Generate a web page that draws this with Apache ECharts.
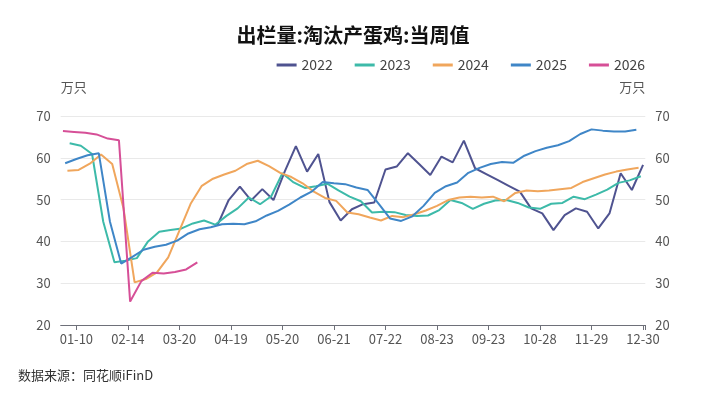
<!DOCTYPE html>
<html>
<head>
<meta charset="utf-8">
<script src="https://cdn.jsdelivr.net/npm/echarts@6/dist/echarts.min.js"></script>
<style>
html,body{margin:0;padding:0;background:#fff;}
#c{width:706px;height:402px;}
</style>
</head>
<body>
<div id="c"></div>
<script>
// Tick labels shown on the category (week) axis
const tickLabels = ['01-10','02-14','03-20','04-19','05-20','06-21','07-22','08-23','09-23','10-28','11-29','12-30'];
const categoryCount = 262;      // union of weekly report dates (MM-DD) across years
const firstLabelIndex = 7;
const labelEvery = 23;
const weekStep = 5;             // categories between consecutive weekly reports of one year

const years = ['2022','2023','2024','2025','2026'];
// first category index of each year's series (date alignment)
const yearStart = {'2022':70,'2023':4,'2024':3,'2025':2,'2026':1};

const v2022 = [43.9,49.9,53.1,49.8,52.5,49.9,56.7,62.8,56.7,60.9,49.4,45.0,47.7,48.9,49.3,57.2,57.9,61.1,58.5,55.9,60.3,58.9,64.1,57.5,56.1,54.7,53.3,51.9,47.9,46.7,42.7,46.3,47.9,47.1,43.1,46.7,56.3,52.3,58.3];
const v2023 = [63.5,62.9,60.9,44.7,35.0,35.4,36.0,40.0,42.3,42.7,43.1,44.3,45.0,44.0,46.1,47.9,50.5,48.9,50.8,56.3,54.1,52.8,53.2,53.8,52.2,50.7,49.6,46.9,47.1,47.0,46.3,46.1,46.2,47.5,49.9,49.2,47.8,49.0,49.8,49.9,49.2,48.1,47.8,49.0,49.2,50.7,50.1,51.2,52.4,54.0,54.6,55.6];
const v2024 = [56.9,57.1,58.6,60.8,58.5,48.0,30.2,31.0,32.6,36.2,42.6,49.0,53.3,55.0,56.0,56.9,58.5,59.3,58.0,56.4,55.4,53.9,51.9,50.4,49.7,46.9,46.5,45.7,45.0,46.1,45.8,46.5,47.4,48.5,49.9,50.5,50.7,50.5,50.7,49.6,51.6,52.2,52.0,52.2,52.5,52.8,54.2,55.1,56.0,56.7,57.2,57.6];
const v2025 = [58.7,59.7,60.6,61.1,44.7,34.7,36.3,38.0,38.7,39.2,40.2,41.9,42.9,43.4,44.1,44.2,44.1,44.8,46.2,47.3,48.8,50.5,51.9,54.2,53.9,53.7,52.9,52.3,49.0,45.5,44.9,46.0,48.5,51.6,53.2,54.1,56.4,57.6,58.5,59.0,58.8,60.5,61.6,62.4,63.0,64.0,65.7,66.8,66.5,66.3,66.3,66.7];
const v2026 = [66.4,66.2,66.0,65.6,64.6,64.2,25.6,30.5,32.5,32.3,32.7,33.3,35.0];

const yearValues = {'2022':v2022,'2023':v2023,'2024':v2024,'2025':v2025,'2026':v2026};
const colors = {'2022':'#4f5390','2023':'#3dbaa9','2024':'#f0a65c','2025':'#3f86c7','2026':'#d64f97'};

const isLabel = i => i >= firstLabelIndex && (i - firstLabelIndex) % labelEvery === 0 && (i - firstLabelIndex) / labelEvery < tickLabels.length;
const categories = [];
for (let i = 0; i < categoryCount; i++) {
  categories.push(isLabel(i) ? tickLabels[(i - firstLabelIndex) / labelEvery] : '');
}

const series = years.map(y => ({
  name: y,
  type: 'line',
  showSymbol: false,
  symbol: 'none',
  connectNulls: true,
  lineStyle: {width: 2, color: colors[y]},
  itemStyle: {color: colors[y]},
  data: yearValues[y].map((v, i) => [yearStart[y] + weekStep * i, v])
}));

const axisLabelStyle = {color:'#555', fontSize:13, fontFamily:'"Noto Sans CJK SC","Noto Sans",sans-serif'};

const chart = echarts.init(document.getElementById('c'), null, {renderer:'canvas'});
chart.setOption({
  animation: false,
  backgroundColor: '#fff',
  title: {
    text: '出栏量:淘汰产蛋鸡:当周值',
    left: 'center',
    top: 20,
    textStyle: {fontSize: 20, fontWeight: 'bold', color: '#111', fontFamily: '"Noto Sans CJK SC",sans-serif'}
  },
  legend: {
    data: years,
    right: 56,
    top: 53,
    icon: 'rect',
    itemWidth: 20,
    itemHeight: 3,
    itemGap: 22,
    textStyle: {fontSize: 14, color: '#444', fontFamily: '"Noto Sans CJK SC","Noto Sans",sans-serif'}
  },
  grid: {left: 60.7, right: 60.7, top: 116, bottom: 77, containLabel: false},
  xAxis: {
    type: 'category',
    data: categories,
    boundaryGap: false,
    axisLine: {lineStyle: {color: '#6e7079', width: 1}},
    axisTick: {show: true, length: 5, lineStyle: {color: '#6e7079'}, interval: (i) => isLabel(i) || i === categoryCount - 1},
    axisLabel: Object.assign({interval: (i) => isLabel(i), margin: 8}, axisLabelStyle),
    splitLine: {show: false}
  },
  yAxis: [
    {
      type: 'value', min: 20, max: 70, interval: 10, position: 'left',
      name: '万只', nameLocation: 'end', nameGap: 22,
      nameTextStyle: Object.assign({align: 'left'}, axisLabelStyle),
      axisLine: {show: false}, axisTick: {show: false},
      axisLabel: Object.assign({margin: 10}, axisLabelStyle),
      splitLine: {lineStyle: {color: '#e9e9e9'}}
    },
    {
      type: 'value', min: 20, max: 70, interval: 10, position: 'right',
      name: '万只', nameLocation: 'end', nameGap: 22,
      nameTextStyle: Object.assign({align: 'right'}, axisLabelStyle),
      axisLine: {show: false}, axisTick: {show: false},
      axisLabel: Object.assign({margin: 10}, axisLabelStyle),
      splitLine: {show: false}
    }
  ],
  series: series,
  graphic: [{
    type: 'text', left: 18, top: 369,
    style: {text: '数据来源：同花顺iFinD', fontSize: 13, fill: '#333', fontFamily: '"Noto Sans CJK SC",sans-serif'}
  }]
});
</script>
</body>
</html>
